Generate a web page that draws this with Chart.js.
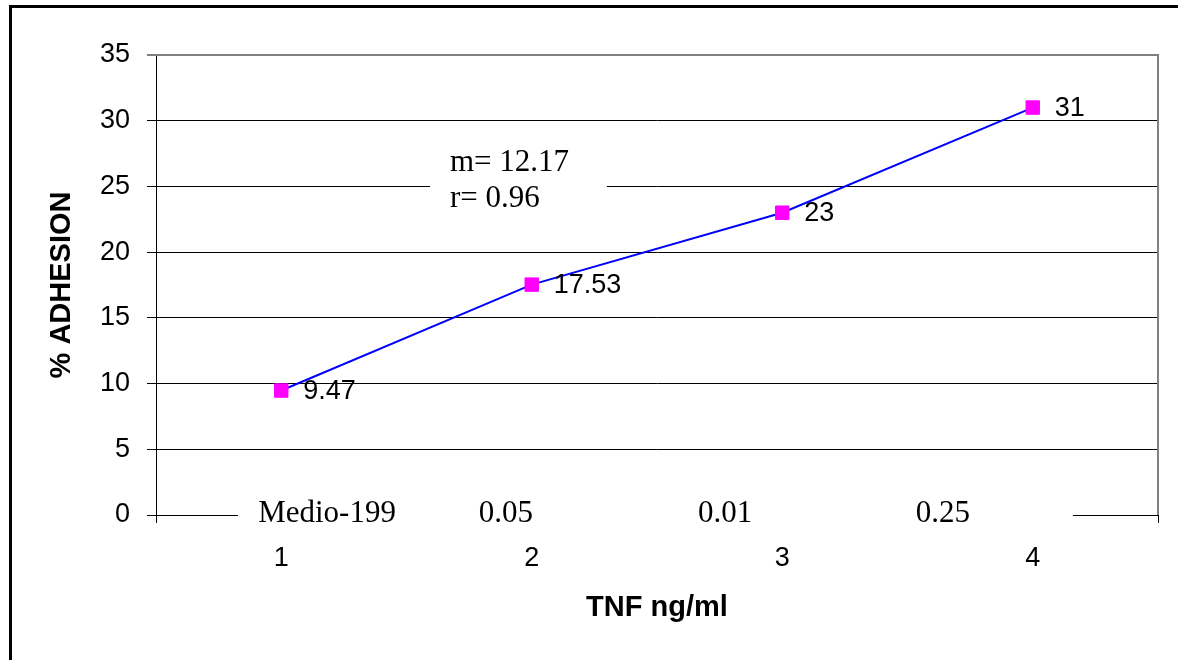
<!DOCTYPE html>
<html>
<head>
<meta charset="utf-8">
<script src="https://cdn.jsdelivr.net/npm/chart.js@4/dist/chart.umd.min.js"></script>
<style>
  html, body { margin: 0; padding: 0; background: #fff; overflow: hidden; }
  canvas { display: block; }
</style>
</head>
<body>
<canvas id="c" width="1178" height="660"></canvas>
<script>
// Adhesion (%) for each TNF dose group
const categories = ['1', '2', '3', '4'];
const adhesion = [9.47, 17.53, 23, 31];
const concentrations = ['Medio-199', '0.05', '0.01', '0.25'];
const yTicks = [0, 5, 10, 15, 20, 25, 30, 35];
const fitStats = ['m= 12.17', 'r= 0.96'];

const SANS = "'Liberation Sans', Arial, Helvetica, sans-serif";
const SERIF = "'Liberation Serif', 'Times New Roman', Times, serif";

// Outer frame and plot-area border
const framePlugin = {
  id: 'frame',
  beforeDraw(chart) {
    const { ctx, width, height } = chart;
    ctx.save();
    ctx.fillStyle = '#fff';
    ctx.fillRect(0, 0, width, height);
    ctx.strokeStyle = '#000';
    ctx.lineWidth = 3;
    ctx.beginPath();
    ctx.moveTo(10.5, height);
    ctx.lineTo(10.5, 6.5);
    ctx.lineTo(width, 6.5);
    ctx.stroke();
    ctx.restore();
  },
  beforeDatasetsDraw(chart) {
    const { ctx, chartArea: a } = chart;
    ctx.save();
    ctx.strokeStyle = '#808080';
    ctx.lineWidth = 2;
    ctx.beginPath();
    ctx.moveTo(a.left, a.top);
    ctx.lineTo(a.right, a.top);
    ctx.lineTo(a.right, a.bottom);
    ctx.stroke();
    ctx.restore();
  }
};

// Value labels to the right of each marker
const valueLabels = {
  id: 'valueLabels',
  afterDatasetsDraw(chart) {
    const { ctx } = chart;
    const meta = chart.getDatasetMeta(0);
    ctx.save();
    ctx.font = '27px ' + SANS;
    ctx.fillStyle = '#000';
    ctx.textAlign = 'left';
    ctx.textBaseline = 'middle';
    meta.data.forEach((pt, i) => {
      ctx.fillText(String(adhesion[i]), pt.x + 22, pt.y + 1);
    });
    ctx.restore();
  }
};

// Text boxes: dose labels along the axis and the regression statistics
const textBoxes = {
  id: 'textBoxes',
  afterDraw(chart) {
    const { ctx, chartArea: a, scales } = chart;
    const w = a.right - a.left;
    ctx.save();

    // dose labels
    const boxL = a.left + w * 0.0818, boxR = a.left + w * 0.915;
    ctx.fillStyle = '#fff';
    ctx.fillRect(boxL, a.bottom - 22, boxR - boxL, 45);
    const centers = [0.1707, 0.3493, 0.5679, 0.7854];
    ctx.font = '31px ' + SERIF;
    ctx.fillStyle = '#000';
    ctx.textAlign = 'center';
    ctx.textBaseline = 'alphabetic';
    concentrations.forEach((t, i) => {
      ctx.fillText(t, a.left + w * centers[i], a.bottom + 7);
    });

    // regression statistics
    const y25 = scales.y.getPixelForValue(25);
    const sL = a.left + w * 0.2735, sR = a.left + w * 0.450;
    ctx.fillStyle = '#fff';
    ctx.fillRect(sL, y25 - 42, sR - sL, 78);
    ctx.fillStyle = '#000';
    ctx.textAlign = 'left';
    ctx.fillText(fitStats[0], a.left + w * 0.2934, y25 - 15);
    ctx.fillText(fitStats[1], a.left + w * 0.2934, y25 + 21);
    ctx.restore();
  }
};

new Chart(document.getElementById('c'), {
  type: 'line',
  data: {
    labels: categories,
    datasets: [{
      data: adhesion,
      borderColor: '#0000FF',
      borderWidth: 2,
      pointStyle: 'rect',
      pointRadius: 9.5,
      pointBackgroundColor: '#FF00FF',
      pointBorderColor: '#FF00FF',
      pointBorderWidth: 1,
      tension: 0,
      fill: false
    }]
  },
  options: {
    responsive: false,
    animation: false,
    devicePixelRatio: 1,
    layout: { padding: { top: 55, right: 20, left: 0, bottom: 0 } },
    plugins: { legend: { display: false }, tooltip: { enabled: false } },
    scales: {
      x: {
        type: 'category',
        offset: true,
        grid: {
          offset: true,
          drawOnChartArea: false,
          drawTicks: true,
          tickLength: 8,
          color: '#000'
        },
        border: { display: true, color: '#000', width: 1 },
        ticks: {
          color: '#000',
          font: { family: SANS, size: 27 },
          padding: 19,
          maxRotation: 0
        },
        title: {
          display: true,
          text: 'TNF ng/ml',
          color: '#000',
          font: { family: SANS, size: 29, weight: 'bold' },
          padding: { top: 0, bottom: 35 }
        },
        afterFit(scale) { scale.height = 145; }
      },
      y: {
        min: 0,
        max: 35,
        afterBuildTicks(scale) { scale.ticks = yTicks.map(v => ({ value: v })); },
        grid: {
          color: c => (c.tick && c.tick.value === 35) ? '#808080' : '#000',
          lineWidth: c => (c.tick && c.tick.value === 35) ? 2 : 1,
          tickLength: 9,
          drawTicks: true
        },
        border: { display: true, color: '#000', width: 1 },
        ticks: {
          color: '#000',
          font: { family: SANS, size: 27 },
          padding: 17
        },
        title: {
          display: true,
          text: '% ADHESION',
          color: '#000',
          font: { family: SANS, size: 29, weight: 'bold' },
          padding: { top: 45, bottom: 0 }
        },
        afterFit(scale) { scale.width = 156; }
      }
    }
  },
  plugins: [framePlugin, valueLabels, textBoxes]
});
</script>
</body>
</html>
